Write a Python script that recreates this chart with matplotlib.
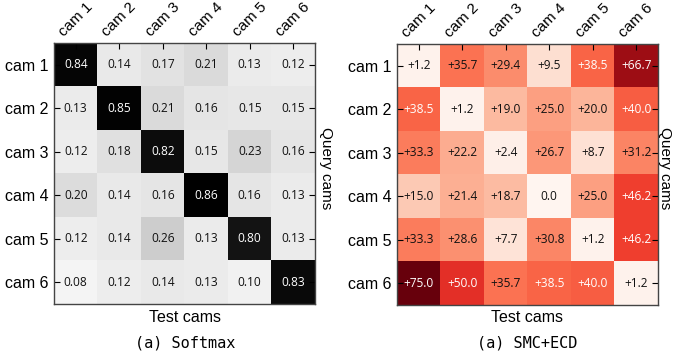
import numpy as np
import matplotlib
matplotlib.use("Agg")
import matplotlib.pyplot as plt

cams = ["cam 1", "cam 2", "cam 3", "cam 4", "cam 5", "cam 6"]

softmax = np.array([
    [0.84, 0.14, 0.17, 0.21, 0.13, 0.12],
    [0.13, 0.85, 0.21, 0.16, 0.15, 0.15],
    [0.12, 0.18, 0.82, 0.15, 0.23, 0.16],
    [0.20, 0.14, 0.16, 0.86, 0.16, 0.13],
    [0.12, 0.14, 0.26, 0.13, 0.80, 0.13],
    [0.08, 0.12, 0.14, 0.13, 0.10, 0.83],
])

smc_ecd = np.array([
    [1.2, 35.7, 29.4, 9.5, 38.5, 66.7],
    [38.5, 1.2, 19.0, 25.0, 20.0, 40.0],
    [33.3, 22.2, 2.4, 26.7, 8.7, 31.2],
    [15.0, 21.4, 18.7, 0.0, 25.0, 46.2],
    [33.3, 28.6, 7.7, 30.8, 1.2, 46.2],
    [75.0, 50.0, 35.7, 38.5, 40.0, 1.2],
])

TICK_FONT = "Liberation Sans"
CELL_FONT = "Open Sans"
CAPTION_FONT = "DejaVu Sans Mono"


def draw_heatmap(ax, data, cmap, vmin, vmax, fmt, white_above):
    ax.imshow(data, cmap=cmap, vmin=vmin, vmax=vmax, aspect="auto")
    n = data.shape[0]
    for i in range(n):
        for j in range(n):
            v = data[i, j]
            ax.text(j, i, fmt(v), ha="center", va="center", fontsize=8.6,
                    family=CELL_FONT,
                    color="white" if v > white_above else "#111111")
    ax.set_xticks(range(n))
    ax.set_yticks(range(n))
    ax.set_xticklabels(cams, rotation=45, family=TICK_FONT, fontsize=11)
    ax.set_yticklabels(cams, family=TICK_FONT, fontsize=11.5)
    ax.tick_params(axis="x", top=True, bottom=False, labeltop=True,
                   labelbottom=False, direction="in", length=4, pad=3)
    ax.tick_params(axis="y", left=True, right=True, direction="in",
                   length=4, pad=4)
    for s in ax.spines.values():
        s.set_color("#444444")
        s.set_linewidth(1.0)


fig = plt.figure(figsize=(6.73, 3.6), dpi=100)

ax1 = fig.add_axes([54 / 673, 1 - 304 / 360, 261 / 673, 261 / 360])
draw_heatmap(ax1, softmax, "Greys", 0.0, 0.86, lambda v: f"{v:.2f}", 0.5)

ax2 = fig.add_axes([397 / 673, 1 - 305 / 360, 261 / 673, 261 / 360])
draw_heatmap(ax2, smc_ecd, "Reds", 0.0, 75.0,
             lambda v: "0.0" if v == 0 else f"+{v:.1f}", 37.0)

# labels
for cx, qx in [(185, 326), (527, 665)]:
    fig.text(cx / 673, 1 - 318 / 360, "Test cams", ha="center", va="center",
             family=TICK_FONT, fontsize=11.5)
    fig.text(qx / 673, 1 - 168 / 360, "Query cams", ha="center", va="center",
             rotation=-90, family=TICK_FONT, fontsize=11)

fig.text(185 / 673, 1 - 343 / 360, "(a) Softmax", ha="center", va="center",
         family=CAPTION_FONT, fontsize=11)
fig.text(527 / 673, 1 - 343 / 360, "(a) SMC+ECD", ha="center", va="center",
         family=CAPTION_FONT, fontsize=11)

fig.savefig("out.png", dpi=100)
